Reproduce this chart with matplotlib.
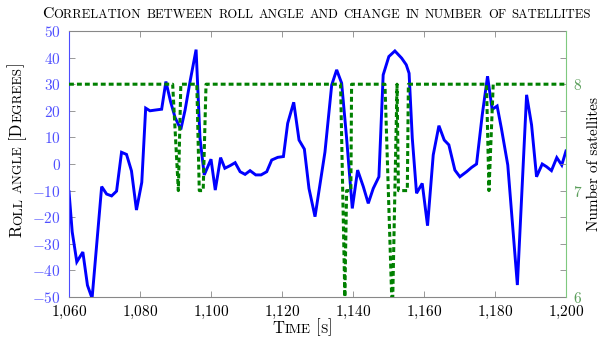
import matplotlib
matplotlib.use("Agg")
import matplotlib.pyplot as plt
from matplotlib.ticker import FuncFormatter, MultipleLocator

plt.rcParams["font.family"] = ["cmr10", "DejaVu Serif"]
plt.rcParams["mathtext.fontset"] = "cm"
plt.rcParams["axes.unicode_minus"] = False

# roll angle
time_roll = [1060.0, 1060.9, 1062.2, 1063.9, 1065.2, 1066.5, 1069.2, 1070.6,
             1072.0, 1073.4, 1074.8, 1076.2, 1077.6, 1079.0, 1080.5, 1081.6,
             1082.8, 1084.4, 1086.1, 1087.3, 1088.6, 1089.9, 1091.5, 1092.7,
             1094.1, 1095.8, 1096.9, 1098.1, 1100.0, 1101.2, 1102.7, 1103.9,
             1105.4, 1106.8, 1108.2, 1109.6, 1111.0, 1112.6, 1114.1, 1115.7,
             1117.1, 1118.8, 1120.4, 1121.6, 1123.3, 1124.8, 1126.3, 1127.6,
             1129.3, 1132.1, 1134.0, 1135.4, 1136.8, 1138.2, 1139.8, 1141.3,
             1142.9, 1144.3, 1145.7, 1147.3, 1148.5, 1150.1, 1151.8, 1153.7,
             1155.0, 1155.8, 1156.7, 1157.9, 1159.5, 1161.0, 1162.6, 1164.2,
             1165.7, 1167.0, 1168.7, 1170.1, 1172.0, 1173.4, 1174.8, 1176.4,
             1177.9, 1179.2, 1180.6, 1181.8, 1183.6, 1186.3, 1188.9, 1190.3,
             1191.7, 1193.3, 1194.5, 1195.9, 1197.4, 1198.8, 1200.0]
roll_deg = [-10.4, -25.5, -36.8, -33.1, -45.6, -50.5, -8.5, -11.3,
            -12.0, -10.2, 4.4, 3.6, -2.6, -17.3, -6.9, 21.0,
            20.0, 20.3, 20.6, 31.0, 23.5, 17.4, 13.0, 20.3,
            31.0, 43.0, 9.7, -4.1, 1.8, -9.8, 2.4, -1.6,
            -0.6, 0.5, -2.9, -3.9, -2.5, -4.1, -4.1, -2.9,
            1.5, 2.5, 2.8, 15.3, 23.2, 9.0, 5.6, -9.2,
            -19.8, 4.5, 29.7, 35.4, 30.4, 9.7, -16.7, -2.3,
            -8.5, -14.8, -9.2, -4.8, 33.5, 40.4, 42.5, 39.8,
            37.3, 34.1, 9.7, -11.0, -7.3, -23.2, 3.4, 14.4,
            9.0, 7.2, -2.3, -4.8, -2.9, -1.3, 0.0, 18.4,
            33.0, 20.5, 21.8, 13.4, -0.4, -45.5, 26.0, 14.7,
            -4.8, 0.0, -1.0, -2.5, 2.4, -0.4, 4.9]

# number of satellites
time_sats = [1060.0, 1089.2, 1090.8, 1091.5, 1096.0, 1096.7, 1097.8, 1098.6,
             1136.5, 1137.7, 1138.2, 1139.4, 1139.6, 1149.0, 1150.9, 1151.2,
             1152.4, 1152.8, 1155.3, 1155.6, 1177.6, 1178.3, 1179.5, 1200.0]
num_sats = [8, 8, 7, 8, 8, 7, 7, 8,
            8, 6, 7, 7, 8, 8, 6, 6,
            8, 7, 7, 8, 8, 7, 8, 8]

x_ticks = list(range(1060, 1201, 20))
roll_ticks = list(range(-50, 51, 10))
sat_ticks = [6, 7, 8]


def small_caps(ax, x, y, text, size, vertical=False, ratio=0.8):
    # fake small caps: chain annotations, one per run of upper/lower letters
    pieces = []
    for i, word in enumerate(text.split(" ")):
        runs = []
        for ch in word:
            big = not ch.islower()
            if runs and runs[-1][1] == big:
                runs[-1][0] += ch
            else:
                runs.append([ch, big])
        for j, (s, big) in enumerate(runs):
            gap = size * 0.33 if (i > 0 and j == 0) else 0
            pieces.append((s if big else s.upper(), size if big else size * ratio, gap))

    arts = []
    for s, fs, gap in pieces:
        if vertical:
            kw = dict(rotation=90, ha="right", va="bottom")
            if arts:
                pos = dict(xy=(1, 1), xycoords=arts[-1], xytext=(0, gap), textcoords="offset points")
            else:
                pos = dict(xy=(x, y), xycoords="figure fraction")
        else:
            kw = dict(ha="left", va="bottom")
            if arts:
                pos = dict(xy=(1, 0), xycoords=arts[-1], xytext=(gap, 0), textcoords="offset points")
            else:
                pos = dict(xy=(x, y), xycoords="figure fraction")
        arts.append(ax.annotate(s, fontsize=fs, annotation_clip=False, **pos, **kw))
    return arts


def center(fig, arts, cx=None, cy=None):
    bbs = [a.get_window_extent() for a in arts]
    fx, fy = arts[0].xy
    if cx is not None:
        mid = (min(b.x0 for b in bbs) + max(b.x1 for b in bbs)) / 2
        fx += (cx * fig.bbox.width - mid) / fig.bbox.width
    if cy is not None:
        mid = (min(b.y0 for b in bbs) + max(b.y1 for b in bbs)) / 2
        fy += (cy * fig.bbox.height - mid) / fig.bbox.height
    arts[0].xy = (fx, fy)


fig = plt.figure(figsize=(6.05, 3.39), dpi=100)
ax = fig.add_axes([69 / 605, 1 - 297 / 339, (566 - 69) / 605, (297 - 31) / 339])

ax.plot(time_roll, roll_deg, color="#0000ff", lw=2.1, solid_joinstyle="miter")
ax.set_xlim(1060, 1200)
ax.set_ylim(-50, 50)
ax.set_xticks(x_ticks)
ax.set_yticks(roll_ticks)
ax.xaxis.set_major_formatter(FuncFormatter(lambda v, p: "$" + f"{v:,.0f}".replace(",", "{,}") + "$"))
ax.yaxis.set_major_formatter(FuncFormatter(lambda v, p: f"${v:.0f}$"))
ax.tick_params(axis="both", direction="in", length=4, width=0.6, color="#888888", labelsize=11)
ax.tick_params(axis="x", top=True, pad=5)
ax.tick_params(axis="y", right=False, labelcolor="#5050ff", pad=6)

ax2 = ax.twinx()
ax2.plot(time_sats, num_sats, color="#008000", lw=2.2, ls=(0, (1.6, 1.0)))
ax2.set_ylim(6, 8.5)
ax2.set_yticks(sat_ticks)
ax2.yaxis.set_minor_locator(MultipleLocator(0.25))
ax2.yaxis.set_major_formatter(FuncFormatter(lambda v, p: f"${v:.0f}$"))
ax2.tick_params(axis="y", which="both", direction="in", length=4, width=0.6,
                color="#888888", labelcolor="#5a9e5a", labelsize=11, pad=5)

for side in ["top", "bottom"]:
    ax.spines[side].set_color("#888888")
    ax2.spines[side].set_visible(False)
ax.spines["left"].set_color("#4d4dff")
ax.spines["right"].set_visible(False)
ax2.spines["left"].set_visible(False)
ax2.spines["right"].set_color("#7fc97f")

title = small_caps(ax, 0.07, 0.938, "Correlation between roll angle and change in number of satellites", 11.4)
xlab = small_caps(ax, 0.45, 0.01, "Time [s]", 12)
ylab = small_caps(ax, 0.041, 0.3, "Roll angle [Degrees]", 12, vertical=True)
fig.text(0.982, 0.516, "Number of satellites", rotation=90, ha="center", va="center", fontsize=11)

fig.canvas.draw()
mid_x = (69 + 566) / 2 / 605
center(fig, title, cx=mid_x)
center(fig, xlab, cx=mid_x)
center(fig, ylab, cy=1 - 164 / 339)

fig.savefig("out.png", dpi=100)
